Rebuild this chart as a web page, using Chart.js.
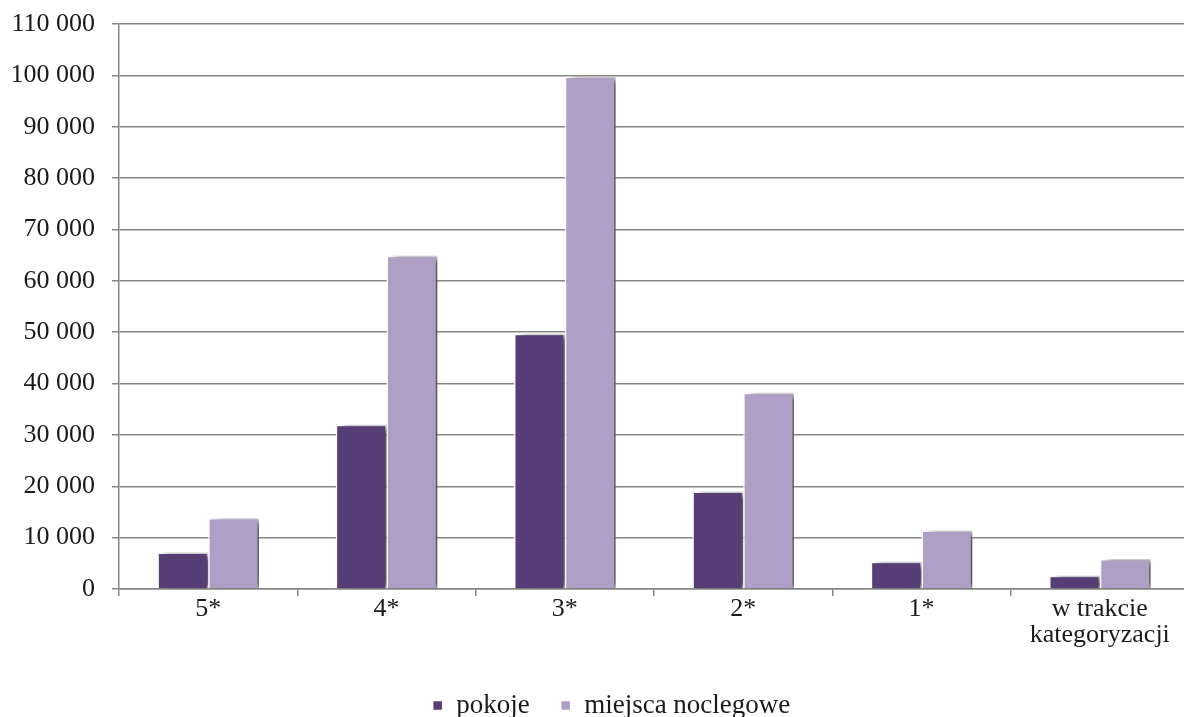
<!DOCTYPE html>
<html>
<head>
<meta charset="utf-8">
<script src="https://cdn.jsdelivr.net/npm/chart.js@4.4.0/dist/chart.umd.min.js"></script>
<style>
html,body{margin:0;padding:0;background:#fff;overflow:hidden;width:1184px;height:717px;}
#wrap{position:absolute;left:0;top:0;width:1226px;height:717px;}
</style>
</head>
<body>
<div id="wrap"><canvas id="c" width="1226" height="717"></canvas></div>
<script>
const categories = ['5*', '4*', '3*', '2*', '1*', ['w trakcie', 'kategoryzacji']];
const pokoje = [7100, 32000, 49700, 19000, 5300, 2600];
const miejscaNoclegowe = [13800, 64900, 99800, 38200, 11400, 5850];
const seriesNames = ['pokoje', 'miejsca noclegowe'];
const yMax = 110000;
const yStep = 10000;

const FONT = "'Liberation Serif', 'Times New Roman', serif";
const fmt = v => String(v).replace(/\B(?=(\d{3})+(?!\d))/g, ' ');

const shadowPlugin = {
  id: 'barShadow',
  beforeDatasetDraw(chart) {
    const ctx = chart.ctx;
    ctx.save();
    ctx.shadowColor = 'rgba(0,0,0,0.7)';
    ctx.shadowBlur = 7;
    ctx.shadowOffsetX = 6;
    ctx.shadowOffsetY = 1;
  },
  afterDatasetDraw(chart) {
    chart.ctx.restore();
  }
};

new Chart(document.getElementById('c'), {
  type: 'bar',
  data: {
    labels: categories,
    datasets: [
      { label: seriesNames[0], data: pokoje, backgroundColor: '#563D75', borderColor: '#ffffff', borderWidth: 1.5, borderSkipped: 'bottom' },
      { label: seriesNames[1], data: miejscaNoclegowe, backgroundColor: '#AF9FC7', borderColor: '#ffffff', borderWidth: 1.5, borderSkipped: 'bottom' }
    ]
  },
  options: {
    responsive: false,
    animation: false,
    devicePixelRatio: 1,
    layout: { padding: { top: 24, right: 3, left: 0, bottom: -12 } },
    datasets: { bar: { categoryPercentage: 0.57, barPercentage: 1.0 } },
    plugins: {
      legend: {
        position: 'bottom',
        labels: {
          boxWidth: 10, boxHeight: 10, padding: 31,
          color: '#1a1a1a',
          font: { family: FONT, size: 27 }
        }
      },
      tooltip: { enabled: false }
    },
    scales: {
      x: {
        grid: { drawOnChartArea: false, color: '#868686', lineWidth: 1.5, tickLength: 7, offset: true },
        border: { color: '#868686', width: 1.5 },
        ticks: { color: '#1a1a1a', font: { family: FONT, size: 26, lineHeight: 1.0 }, padding: 0, maxRotation: 0, autoSkip: false },
        afterFit: s => { s.height = 72; s.paddingLeft = 0; s.paddingRight = 0; }
      },
      y: {
        min: 0, max: yMax,
        grid: { color: '#868686', lineWidth: 1.5, tickLength: 7 },
        border: { color: '#868686', width: 1.5 },
        ticks: { stepSize: yStep, color: '#1a1a1a', font: { family: FONT, size: 26 }, padding: 17, callback: v => fmt(v) },
        afterFit: s => { s.width = 119; s.paddingTop = 0; s.paddingBottom = 0; }
      },
      spacer: {
        position: 'right',
        display: true,
        min: 0, max: 1,
        grid: { display: false, drawTicks: false },
        border: { display: false },
        ticks: { display: false },
        afterFit: s => { s.width = 34; s.paddingTop = 0; s.paddingBottom = 0; }
      }
    }
  },
  plugins: [shadowPlugin]
});
</script>
</body>
</html>
